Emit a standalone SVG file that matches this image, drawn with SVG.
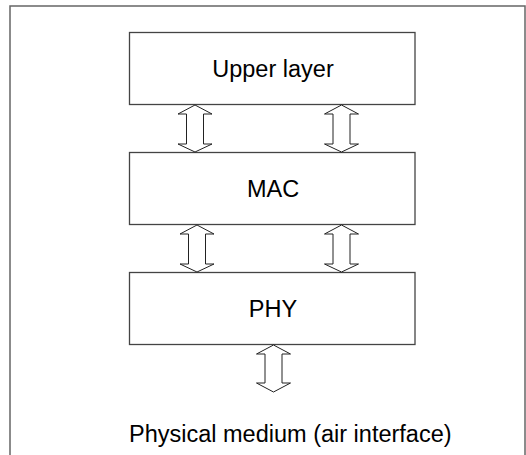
<svg xmlns="http://www.w3.org/2000/svg" width="526" height="455" viewBox="0 0 526 455">
<style>
.frame{fill:none;stroke:#666;stroke-width:1.5}
.box{fill:#fff;stroke:#444;stroke-width:1.3}
.lbl{font-family:"Liberation Sans",Arial,sans-serif;font-size:23.5px;fill:#000}
.arr{fill:#fff;stroke:#222;stroke-width:1}
</style>
<rect class="frame" x="10" y="6" width="515" height="470"/>
<g id="upper"><rect class="box" x="129.5" y="32.5" width="285.5" height="72"/><text class="lbl" x="273" y="77" text-anchor="middle">Upper layer</text></g>
<g id="mac"><rect class="box" x="129.5" y="152.5" width="285.5" height="72"/><text class="lbl" x="273" y="197" text-anchor="middle">MAC</text></g>
<g id="phy"><rect class="box" x="129.5" y="272.5" width="285.5" height="72"/><text class="lbl" x="273" y="317" text-anchor="middle">PHY</text></g>
<g id="medium"><text class="lbl" x="129" y="442">Physical medium (air interface)</text></g>
<g id="connectors">
<path class="arr" d="M195,105 L212,114 L203.5,114 L203.5,144 L212,144 L195,152 L178,144 L186.5,144 L186.5,114 L178,114 Z"/>
<path class="arr" d="M341.5,105 L358.5,114 L350,114 L350,144 L358.5,144 L341.5,152 L324.5,144 L333,144 L333,114 L324.5,114 Z"/>
<path class="arr" d="M197,225 L214,234 L205.5,234 L205.5,264 L214,264 L197,272 L180,264 L188.5,264 L188.5,234 L180,234 Z"/>
<path class="arr" d="M341.5,225 L358.5,234 L350,234 L350,264 L358.5,264 L341.5,272 L324.5,264 L333,264 L333,234 L324.5,234 Z"/>
<path class="arr" d="M273.5,345 L290.5,354 L282,354 L282,383 L290.5,383 L273.5,392 L256.5,383 L265,383 L265,354 L256.5,354 Z"/>
</g>
</svg>
